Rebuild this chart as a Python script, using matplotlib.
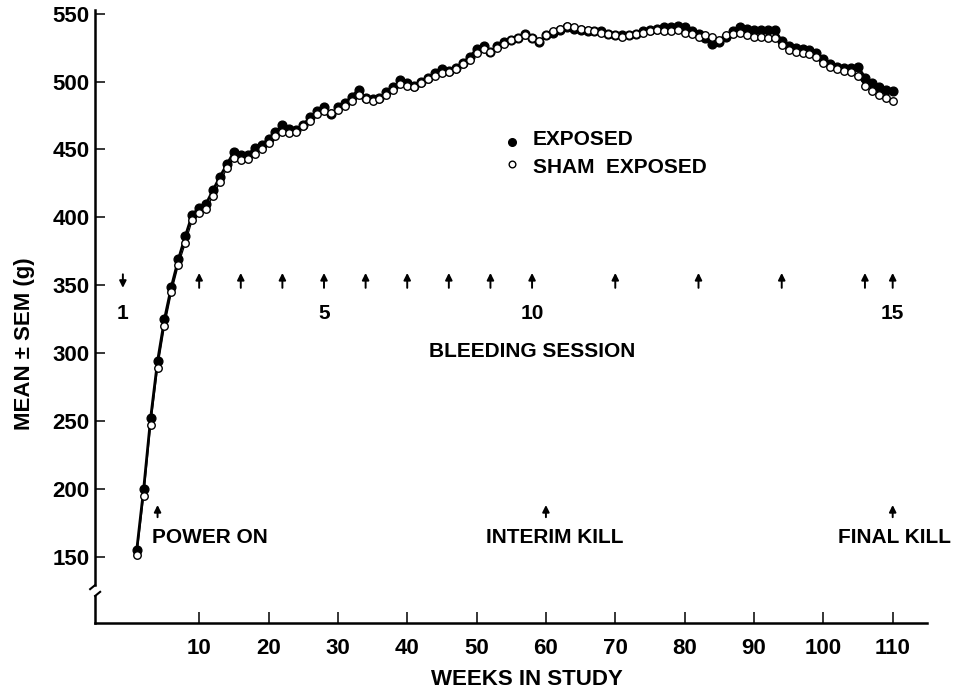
"""
Body weight of exposed vs sham-exposed animals over the study
"""
import matplotlib
matplotlib.use("Agg")
import matplotlib.pyplot as plt
import matplotlib.transforms as mtransforms
import numpy as np

plt.rcParams["font.family"] = ["Liberation Sans", "DejaVu Sans"]
plt.rcParams["font.weight"] = "bold"

# ── data (weekly means, g) ──
WEEKS = list(range(1, 111))
EXPOSED = [
    155, 200, 252, 294, 325, 349, 369, 386, 402, 407,
    410, 420, 430, 439, 448, 446, 446, 451, 453, 458,
    463, 468, 465, 464, 468, 474, 478, 481, 476, 481,
    484, 489, 494, 488, 487, 488, 492, 496, 501, 499,
    497, 500, 503, 506, 509, 508, 510, 514, 518, 524,
    526, 522, 526, 529, 531, 532, 535, 532, 529, 534,
    536, 538, 540, 539, 538, 537, 537, 537, 535, 534,
    534, 534, 535, 537, 538, 539, 540, 540, 541, 540,
    537, 535, 532, 528, 529, 533, 537, 540, 539, 538,
    538, 538, 538, 530, 526, 525, 524, 523, 521, 517,
    513, 511, 510, 510, 511, 503, 499, 496, 494, 493,
]
SHAM = [
    151, 195, 247, 289, 320, 345, 365, 381, 398, 403,
    406, 416, 426, 436, 444, 442, 443, 447, 450, 455,
    460, 463, 462, 463, 467, 471, 476, 478, 477, 479,
    482, 486, 490, 487, 486, 487, 490, 494, 498, 497,
    496, 499, 502, 504, 506, 507, 509, 513, 516, 521,
    524, 522, 525, 528, 531, 532, 534, 532, 530, 534,
    537, 539, 541, 540, 539, 538, 537, 536, 535, 534,
    533, 534, 535, 536, 537, 538, 537, 537, 538, 536,
    535, 533, 534, 533, 531, 534, 535, 536, 534, 533,
    533, 532, 532, 527, 523, 522, 521, 520, 518, 514,
    511, 509, 508, 507, 504, 497, 493, 490, 488, 486,
]

# bleeding sessions (week of each session)
BLEED_WEEKS = [-1, 10, 16, 22, 28, 34, 40, 46, 52, 58, 70, 82, 94, 106, 110]
BLEED_LABELS = {1: "1", 5: "5", 10: "10", 15: "15"}

EVENT_WEEKS = [4, 60, 110]

X_TICKS = list(range(10, 111, 10))
Y_TICKS = list(range(150, 551, 50))

FS = 15

fig = plt.figure(figsize=(9.61, 6.90), dpi=100)
ax = fig.add_axes([0.099, 0.097, 0.866, 0.889])

ax.plot(WEEKS, EXPOSED, color="black", linewidth=2.0, marker="o",
        markersize=6.3, markerfacecolor="black", markeredgecolor="black", zorder=3)
ax.plot(WEEKS, SHAM, color="black", linewidth=0.9, marker="o",
        markersize=5.4, markerfacecolor="white", markeredgecolor="black",
        markeredgewidth=1.0, zorder=4)

ax.set_xlim(-5, 115)
ax.set_ylim(101, 553)

# bleeding session arrows
arrow_kw = dict(arrowstyle="-|>", color="black", lw=1.4, mutation_scale=10,
                shrinkA=0, shrinkB=0)
for i, w in enumerate(BLEED_WEEKS, start=1):
    if i == 1:
        ax.annotate("", xy=(w, 348), xytext=(w, 358), arrowprops=arrow_kw)
    else:
        ax.annotate("", xy=(w, 359), xytext=(w, 348), arrowprops=arrow_kw)
    if i in BLEED_LABELS:
        ax.text(w, 329, BLEED_LABELS[i], ha="center", va="center", fontsize=FS)
ax.text(58, 301, "BLEEDING SESSION", ha="center", va="center", fontsize=FS)

# event arrows
for w in EVENT_WEEKS:
    ax.annotate("", xy=(w, 188), xytext=(w, 179), arrowprops=arrow_kw)
ax.text(3.2, 164, "POWER ON", ha="left", va="center", fontsize=FS)
ax.text(61.3, 164, "INTERIM KILL", ha="center", va="center", fontsize=FS)
ax.text(110.3, 164, "FINAL KILL", ha="center", va="center", fontsize=FS)

# legend drawn as text
ax.plot([55.1], [455.5], "o", color="black", markersize=5.5)
ax.plot([55.1], [439.5], "o", markerfacecolor="white", markeredgecolor="black",
        markersize=4.8, markeredgewidth=1.0)
ax.text(58.1, 457, "EXPOSED", ha="left", va="center", fontsize=FS)
ax.text(58.1, 437, "SHAM  EXPOSED", ha="left", va="center", fontsize=FS)

# axes styling with broken y axis
for s in ("top", "right"):
    ax.spines[s].set_visible(False)
ax.spines["left"].set_linewidth(1.8)
ax.spines["bottom"].set_linewidth(1.8)
ax.spines["left"].set_bounds(129, 553)

trans = mtransforms.blended_transform_factory(ax.transAxes, ax.transData)
ax.plot([0, 0], [101, 121], color="black", lw=1.8, transform=trans, clip_on=False)
ax.plot([0, -0.006], [129, 126], color="black", lw=1.5, transform=trans, clip_on=False)
ax.plot([0, 0.006], [121, 124], color="black", lw=1.5, transform=trans, clip_on=False)

ax.set_xticks(X_TICKS)
ax.set_yticks(Y_TICKS)
ax.tick_params(axis="both", direction="in", labelsize=FS + 1, width=1.1)
ax.tick_params(axis="x", length=8, pad=11)
ax.tick_params(axis="y", length=7, pad=4)

ax.set_xlabel("WEEKS IN STUDY", fontsize=FS + 1, fontweight="bold")
ax.xaxis.set_label_coords(0.519, -0.075)
ax.set_ylabel("MEAN \u00b1 SEM (g)", fontsize=FS + 1, fontweight="bold")
ax.yaxis.set_label_coords(-0.072, 0.455)

fig.savefig("out.png", dpi=100, facecolor="white")
plt.close()
